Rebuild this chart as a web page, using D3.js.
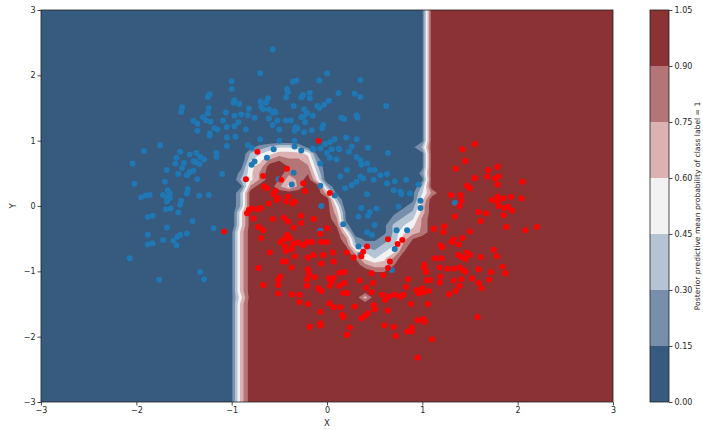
<!DOCTYPE html>
<html>
<head>
<meta charset="utf-8">
<script src="https://cdn.jsdelivr.net/npm/d3@7"></script>
<style>
  body { margin: 0; background: #fff; }
  svg text { font-family: "DejaVu Sans", sans-serif; fill: #262626; }
</style>
</head>
<body>
<svg id="chart"></svg>
<script>
const width = 703;
const height = 430;

// axis ranges and ticks
const xTicks = [-3, -2, -1, 0, 1, 2, 3];
const yTicks = [-3, -2, -1, 0, 1, 2, 3];

// contour levels (colorbar) and their band colours
const levels = [0, 0.15, 0.30, 0.45, 0.60, 0.75, 0.90, 1.05];
const bandColors = ["#375a7f", "#778fab", "#b4c4d4", "#f2f2f2", "#dbb1b2", "#b47576", "#8b3334"];

// posterior predictive mean on a 61 x 61 grid (x: -3..3, y: 3..-3, step 0.1)
// each digit is a probability level, looked up in probDigits
const probDigits = [0, 0.11, 0.22, 0.33, 0.44, 0.56, 0.67, 0.78, 0.89, 1.0];
const gridX0 = -3, gridY0 = 3, gridStep = 0.1, gridN = 61;
const L = "000000000000000", R = "999999999999999";
const probRows = [
  L + "0000000000000000000000000199999" + R,
  L + "0000000000000000000000000199999" + R,
  L + "0000000000000000000000000199999" + R,
  L + "0000000000000000000000000199999" + R,
  L + "0000000000000000000000000199999" + R,
  L + "0000000000000000000000000199999" + R,
  L + "0000000000000000000000000199999" + R,
  L + "0000000000000000000000000199999" + R,
  L + "0000000000000000000000000199999" + R,
  L + "0000000000000000000000000199999" + R,
  L + "0000000000000000000000000199999" + R,
  L + "0000000000000000000000000199999" + R,
  L + "0000000000000000000000000199999" + R,
  L + "0000000000000000000000000199999" + R,
  L + "0000000000000000000000000199999" + R,
  L + "0000000000000000000000000199999" + R,
  L + "0000000000000000000000000199999" + R,
  L + "0000000000000000000000000199999" + R,
  L + "0000000000000000000000000199999" + R,
  L + "0000000000000000000000000199999" + R,
  L + "0000000000000000000000000199999" + R,
  L + "0000000123443100000000001399999" + R,
  L + "0000000345666510000000000199999" + R,
  L + "0000000457877620000000000199999" + R,
  L + "0000001569988730000000000199999" + R,
  L + "0000002579978840000000000299999" + R,
  L + "0000003579867950000000000199999" + R,
  L + "0000001799757993000000000399999" + R,
  L + "0000003999999996100000001479999" + R,
  L + "0000003999999999300000001599999" + R,
  L + "0000003999999999500000012699999" + R,
  L + "0000005999999999610000123699999" + R,
  L + "0000005999999999710000234799999" + R,
  L + "0000005999999999820001345799999" + R,
  L + "0000016999999999950001356799999" + R,
  L + "0000016999999999972112368999999" + R,
  L + "0000016999999999983223479999999" + R,
  L + "0000016999999999996434589999999" + R,
  L + "0000016999999999998545799999999" + R,
  L + "0000016999999999999766899999999" + R,
  L + "0000016999999999999988999999999" + R,
  L + "0000016999999999999999999999999" + R,
  L + "0000016999999999999999999999999" + R,
  L + "0000016999999999999999999999999" + R,
  L + "0000015999999999999699999999999" + R,
  L + "0000016999999999999999999999999" + R,
  L + "0000016999999999999999999999999" + R,
  L + "0000016999999999999999999999999" + R,
  L + "0000016999999999999999999999999" + R,
  L + "0000016999999999999999999999999" + R,
  L + "0000016999999999999999999999999" + R,
  L + "0000016999999999999999999999999" + R,
  L + "0000016999999999999999999999999" + R,
  L + "0000016999999999999999999999999" + R,
  L + "0000016999999999999999999999999" + R,
  L + "0000016999999999999999999999999" + R,
  L + "0000016999999999999999999999999" + R,
  L + "0000016999999999999999999999999" + R,
  L + "0000016999999999999999999999999" + R,
  L + "0000016999999999999999999999999" + R,
  L + "0000016999999999999999999999999" + R
];

// test points predicted as class 0 (blue) and class 1 (red)
const bluePoints = [
  [-0.70,2.03],[-1.00,1.91],[-1.00,1.79],[-1.23,1.71],[-1.25,1.67],[-0.97,1.62],[-0.98,1.58],[-0.92,1.56],
  [-0.70,1.60],[-0.69,1.52],[-0.67,1.48],[-1.52,1.51],[-1.53,1.44],[-1.24,1.50],[-0.82,1.49],[-1.06,1.43],
  [-1.25,1.42],[-0.97,1.38],[-0.90,1.40],[-0.83,1.39],[-0.76,1.35],[-1.30,1.36],[-1.27,1.31],[-1.22,1.29],
  [-1.40,1.30],[-1.36,1.26],[-1.09,1.31],[-0.93,1.28],[-0.97,1.22],[-1.18,1.19],[-1.15,1.17],[-1.05,1.21],
  [-0.85,1.17],[-1.36,1.15],[-1.23,1.11],[-1.23,1.08],[-1.05,1.05],[-0.96,1.06],[-0.70,1.02],[-1.75,0.93],
  [-1.05,0.92],[-0.83,0.93],[-0.79,0.89],
  [-0.57,2.40],[0.00,2.03],[-0.08,1.92],[-0.36,1.90],[-0.32,1.92],[0.35,1.93],[-0.42,1.79],[-0.41,1.74],
  [-0.43,1.66],[-0.18,1.73],[-0.25,1.70],[-0.27,1.66],[-0.18,1.65],[0.12,1.73],[0.29,1.72],[0.35,1.67],
  [-0.62,1.65],[-0.64,1.58],[0.02,1.61],[-0.03,1.55],[-0.10,1.53],[-0.08,1.50],[-0.35,1.53],[0.62,1.53],
  [-0.61,1.48],[-0.55,1.45],[-0.54,1.43],[-0.57,1.43],[-0.24,1.48],[-0.21,1.42],[-0.25,1.37],[-0.27,1.36],
  [-0.15,1.38],[0.31,1.39],[0.32,1.35],[0.15,1.35],[0.18,1.33],[-0.61,1.34],[-0.52,1.31],[-0.43,1.31],
  [-0.38,1.31],[-0.23,1.28],[-0.57,1.24],[-0.04,1.24],[-0.05,1.19],[-0.33,1.21],[-0.34,1.15],[-0.31,1.19],
  [-0.50,1.17],[-0.16,1.16],[-0.24,1.13],[0.20,1.05],[0.31,1.02],[0.08,1.02],[0.03,0.98],[-0.02,0.95],
  [-0.50,1.00],[-0.34,1.00],[-0.15,0.88],[0.12,0.88],[0.26,0.91],[0.43,0.89],
  [-1.92,0.84],[-1.54,0.83],[-1.44,0.79],[-1.37,0.81],[-1.33,0.75],[-1.29,0.71],[-1.34,0.64],[-1.37,0.67],
  [-1.58,0.74],[-1.59,0.65],[-1.50,0.66],[-1.52,0.58],[-1.40,0.69],[-1.16,0.81],[-1.16,0.75],[-2.04,0.65],
  [-1.68,0.55],[-1.56,0.49],[-1.47,0.47],[-1.44,0.52],[-1.40,0.54],[-1.36,0.41],[-1.10,0.49],[-1.70,0.37],
  [-2.02,0.34],[-1.67,0.24],[-1.65,0.19],[-1.72,0.17],[-1.68,0.13],[-1.65,0.12],[-1.46,0.26],[-1.47,0.19],
  [-1.34,0.16],[-1.24,0.17],[-1.95,0.13],[-1.90,0.16],[-1.86,0.17],[-1.68,0.07],[-1.53,0.08],[-1.54,0.02],
  [-1.69,-0.05],[-1.64,-0.04],[-1.56,-0.10],[-1.88,-0.17],[-1.83,-0.15],[-1.41,-0.23],[-1.68,-0.33],
  [-1.19,-0.34],[-1.88,-0.44],[-1.47,-0.42],[-1.54,-0.44],[-1.57,-0.47],[-1.72,-0.52],[-1.61,-0.53],
  [-1.58,-0.60],[-1.88,-0.59],[-1.83,-0.57],[-2.07,-0.80],[-0.79,0.63],[-0.76,0.68],
  [-1.76,-1.13],[-1.33,-1.01],[-1.29,-1.12],
  [-0.56,0.87],[-0.63,0.74],[-0.34,0.91],[-0.27,0.85],[-0.14,0.87],[-0.07,0.88],[0.05,0.87],[0.13,0.87],
  [0.00,0.81],[0.03,0.74],[0.10,0.71],[0.23,0.83],[0.31,0.75],[0.35,0.70],[0.64,0.81],[0.36,0.63],
  [0.42,0.65],[0.45,0.55],[0.50,0.55],[0.56,0.47],[0.63,0.49],[-0.07,0.65],[0.21,0.55],[0.14,0.45],
  [0.35,0.45],[0.31,0.37],[0.38,0.42],[0.19,0.27],[0.26,0.32],[0.49,0.40],[0.71,0.38],[0.63,0.35],
  [0.70,0.24],[0.77,0.22],[-0.07,0.31],[0.42,0.18],[0.36,-0.03],[0.45,-0.09],[0.52,-0.04],[0.33,-0.16],
  [0.43,-0.15],[0.50,-0.29],[0.42,-0.40],[0.47,-0.44],[0.17,-0.28],[0.75,-0.01],[0.73,-0.37],[-0.06,0.00],
  [-0.07,-0.38],[-0.35,0.51],[-0.51,0.41],[-0.37,0.33],[0.08,0.16],[0.33,-0.62],[0.35,-0.75],[0.71,-0.66],
  [0.83,0.40],[0.96,0.33],[0.78,0.18],[0.87,0.19],[0.98,0.08],[0.98,-0.03],[1.34,0.05],[0.84,-0.37],
  [0.68,-0.98]
];

const redPoints = [
  [-0.09,1.00],[1.55,0.95],[1.42,0.87],[-0.73,0.83],[-0.85,0.41],[-0.67,0.46],[-0.66,0.30],[-0.84,-0.11],
  [-0.82,-0.06],[-0.79,-0.04],[-0.73,-0.05],[-0.69,-0.03],[-0.77,-0.19],[-0.72,-0.32],[-1.08,-0.39],
  [-0.42,0.57],[-0.48,0.40],[-0.25,0.35],[-0.23,0.23],[0.03,0.20],[-0.63,0.27],[-0.54,0.23],[-0.56,0.18],
  [-0.51,0.12],[-0.53,0.09],[-0.41,0.14],[-0.43,0.07],[-0.36,0.04],[-0.34,0.07],[-0.61,0.04],[-0.57,-0.20],
  [-0.45,-0.18],[-0.41,-0.24],[-0.35,-0.33],[-0.27,-0.15],[-0.27,-0.26],[-0.14,-0.20],[0.00,-0.34],
  [-0.07,-0.42],[0.00,-0.55],[-0.42,-0.44],[-0.39,-0.49],[-0.45,-0.51],[-0.36,-0.58],[-0.31,-0.56],
  [-0.25,-0.60],[-0.21,-0.55],[-0.16,-0.55],[-0.06,-0.55],[-0.49,-0.55],[-0.44,-0.62],[-0.43,-0.69],
  [-0.37,-0.66],[-0.67,-0.37],[-0.69,-0.49],[-0.60,-0.71],[-0.14,-0.75],[-0.04,-0.75],[0.06,-0.71],
  [0.21,-0.71],[0.28,-0.79],[0.38,-0.70],[0.42,-0.62],[0.36,-0.77],[0.64,-0.51],[0.74,-0.58],
  [1.45,0.69],[1.35,0.57],[1.69,0.55],[1.79,0.60],[1.68,0.45],[1.76,0.42],[1.80,0.45],[1.55,0.43],
  [1.79,0.33],[2.05,0.37],[1.47,0.31],[1.50,0.27],[1.30,0.17],[1.40,0.17],[1.41,0.08],[1.39,0.00],
  [1.73,0.09],[1.79,0.14],[1.85,0.12],[1.93,0.14],[2.04,0.12],[1.79,0.06],[1.80,0.00],[1.86,-0.03],
  [1.90,-0.01],[1.94,-0.07],[1.59,-0.09],[1.67,-0.11],[1.85,-0.14],[1.34,-0.16],[1.61,-0.23],[1.23,-0.31],
  [1.12,-0.35],[1.22,-0.40],[1.50,-0.39],[1.88,-0.32],[2.08,-0.37],[2.20,-0.32],[0.79,-0.52],[1.42,-0.49],
  [1.33,-0.51],[1.31,-0.55],[1.38,-0.59],[1.19,-0.60],[1.21,-0.63],[1.75,-0.67],[1.78,-0.77],[1.47,-0.71],
  [1.50,-0.75],[1.38,-0.75],[1.41,-0.78],[1.61,-0.78],[1.13,-0.80],[1.20,-0.80],
  [-0.46,-0.85],[-0.43,-0.85],[-0.34,-0.77],[-0.20,-0.79],[0.07,-0.85],[-0.06,-0.88],[-0.37,-0.94],
  [-0.20,-0.97],[-0.19,-1.04],[-0.67,-1.21],[-0.51,-1.13],[-0.49,-1.08],[-0.51,-1.21],[-0.21,-1.12],
  [-0.21,-1.22],[-0.13,-1.09],[0.02,-1.11],[0.07,-1.10],[0.05,-1.16],[0.03,-1.22],[0.13,-1.02],[0.18,-1.01],
  [0.13,-1.22],[0.18,-1.18],[-0.09,-1.26],[-0.06,-1.30],[0.34,-1.14],[0.41,-1.25],[0.48,-1.18],[0.47,-1.03],
  [0.59,-1.06],[-0.51,-1.34],[-0.37,-1.35],[-0.29,-1.36],[-0.29,-1.47],[-0.20,-1.50],[0.02,-1.49],
  [0.07,-1.55],[0.14,-1.55],[0.17,-1.33],[0.21,-1.33],[0.29,-1.54],[0.47,-1.32],[0.58,-1.36],[0.61,-1.44],
  [0.65,-1.38],[0.71,-1.36],[0.77,-1.39],[0.80,-1.36],[0.49,-1.52],[0.50,-1.58],[0.64,-1.60],[-0.07,-1.62],
  [0.16,-1.67],[0.17,-1.70],[0.36,-1.72],[0.40,-1.68],[0.43,-1.64],[-0.07,-1.80],[-0.07,-1.83],[-0.18,-1.85],
  [0.24,-1.86],[0.60,-1.83],[0.70,-1.85],[0.21,-1.97],[0.72,-1.99],[0.66,-0.85],[0.64,-0.95],[-0.72,-0.95],
  [1.45,-0.81],[1.02,-0.90],[1.02,-0.94],[1.04,-1.01],[1.18,-0.94],[1.26,-0.96],[1.33,-0.96],[1.39,-0.94],
  [1.43,-0.98],[1.45,-1.01],[1.59,-0.97],[1.72,-1.01],[1.84,-0.93],[1.87,-1.03],[0.85,-1.12],[1.05,-1.14],
  [1.08,-1.13],[1.19,-1.08],[1.18,-1.17],[1.33,-1.14],[1.41,-1.12],[1.52,-1.11],[1.59,-1.18],[1.70,-1.13],
  [1.39,-1.22],[1.62,-1.26],[0.83,-1.24],[0.94,-1.29],[0.96,-1.34],[1.00,-1.26],[1.01,-1.32],[1.07,-1.30],
  [1.35,-1.30],[1.28,-1.35],[0.88,-1.50],[1.06,-1.50],[1.58,-1.70],[0.95,-1.75],[1.01,-1.73],[1.02,-1.77],
  [0.89,-1.86],[0.84,-1.92],[0.89,-1.92],[1.10,-2.04],[0.95,-2.32]
];

// layout
const plotLeft = 41, plotRight = 613, plotTop = 10, plotBottom = 402;
const cbarLeft = 650, cbarRight = 669;

const svg = d3.select("#chart")
  .attr("width", width)
  .attr("height", height);

const x = d3.scaleLinear().domain([-3, 3]).range([plotLeft, plotRight]);
const y = d3.scaleLinear().domain([-3, 3]).range([plotBottom, plotTop]);

svg.append("defs").append("clipPath")
  .attr("id", "plotClip")
  .append("rect")
  .attr("x", plotLeft)
  .attr("y", plotTop)
  .attr("width", plotRight - plotLeft)
  .attr("height", plotBottom - plotTop);

// filled contours
const gridValues = [];
probRows.forEach(row => {
  for (let i = 0; i < gridN; i++) gridValues.push(probDigits[+(row[i] || row[row.length - 1])]);
});

const bands = d3.contours()
  .size([gridN, gridN])
  .thresholds(levels.slice(0, -1))(gridValues);

const gridToScreen = d3.geoTransform({
  point(gx, gy) {
    this.stream.point(
      x(gridX0 + (gx - 0.5) * gridStep),
      y(gridY0 - (gy - 0.5) * gridStep)
    );
  }
});

svg.append("g")
  .attr("clip-path", "url(#plotClip)")
  .selectAll("path")
  .data(bands)
  .join("path")
  .attr("d", d3.geoPath(gridToScreen))
  .attr("fill", (d, i) => bandColors[i]);

// scatter
const dots = svg.append("g").attr("clip-path", "url(#plotClip)");
dots.selectAll("circle.blue")
  .data(bluePoints)
  .join("circle")
  .attr("class", "blue")
  .attr("cx", d => x(d[0]))
  .attr("cy", d => y(d[1]))
  .attr("r", 3)
  .attr("fill", "#1f77b4");

dots.selectAll("circle.red")
  .data(redPoints)
  .join("circle")
  .attr("class", "red")
  .attr("cx", d => x(d[0]))
  .attr("cy", d => y(d[1]))
  .attr("r", 3)
  .attr("fill", "#ff0000");

// frame
svg.append("rect")
  .attr("x", plotLeft)
  .attr("y", plotTop)
  .attr("width", plotRight - plotLeft)
  .attr("height", plotBottom - plotTop)
  .attr("fill", "none")
  .attr("stroke", "#222")
  .attr("stroke-width", 0.8);

// axes
const xAxis = svg.append("g")
  .attr("transform", `translate(0,${plotBottom})`)
  .call(d3.axisBottom(x).tickValues(xTicks).tickSize(3.5).tickPadding(2).tickFormat(d3.format("d")));
const yAxis = svg.append("g")
  .attr("transform", `translate(${plotLeft},0)`)
  .call(d3.axisLeft(y).tickValues(yTicks).tickSize(3.5).tickPadding(2).tickFormat(d3.format("d")));

[xAxis, yAxis].forEach(g => {
  g.select(".domain").remove();
  g.attr("font-family", "DejaVu Sans").attr("font-size", 8);
  g.selectAll(".tick line").attr("stroke", "#222").attr("stroke-width", 0.8);
});

svg.append("text")
  .attr("x", (plotLeft + plotRight) / 2)
  .attr("y", 426)
  .attr("text-anchor", "middle")
  .attr("font-size", 8.5)
  .text("X");

svg.append("text")
  .attr("transform", `translate(16,${(plotTop + plotBottom) / 2}) rotate(-90)`)
  .attr("text-anchor", "middle")
  .attr("font-size", 8.5)
  .text("Y");

// colorbar
const cy = d3.scaleLinear().domain([levels[0], levels[levels.length - 1]]).range([plotBottom, plotTop]);
const cbar = svg.append("g");
cbar.selectAll("rect")
  .data(bandColors)
  .join("rect")
  .attr("x", cbarLeft)
  .attr("width", cbarRight - cbarLeft)
  .attr("y", (d, i) => cy(levels[i + 1]))
  .attr("height", (d, i) => cy(levels[i]) - cy(levels[i + 1]))
  .attr("fill", d => d);

cbar.append("rect")
  .attr("x", cbarLeft)
  .attr("y", plotTop)
  .attr("width", cbarRight - cbarLeft)
  .attr("height", plotBottom - plotTop)
  .attr("fill", "none")
  .attr("stroke", "#222")
  .attr("stroke-width", 0.8);

const cAxis = svg.append("g")
  .attr("transform", `translate(${cbarRight},0)`)
  .call(d3.axisRight(cy).tickValues(levels).tickSize(3.5).tickPadding(2).tickFormat(d3.format(".2f")));
cAxis.select(".domain").remove();
cAxis.attr("font-family", "DejaVu Sans").attr("font-size", 8);
cAxis.selectAll(".tick line").attr("stroke", "#222").attr("stroke-width", 0.8);

svg.append("text")
  .attr("transform", `translate(700,${(plotTop + plotBottom) / 2}) rotate(-90)`)
  .attr("text-anchor", "middle")
  .attr("font-size", 7.6)
  .text("Posterior predictive mean probability of class label = 1");
</script>
</body>
</html>
